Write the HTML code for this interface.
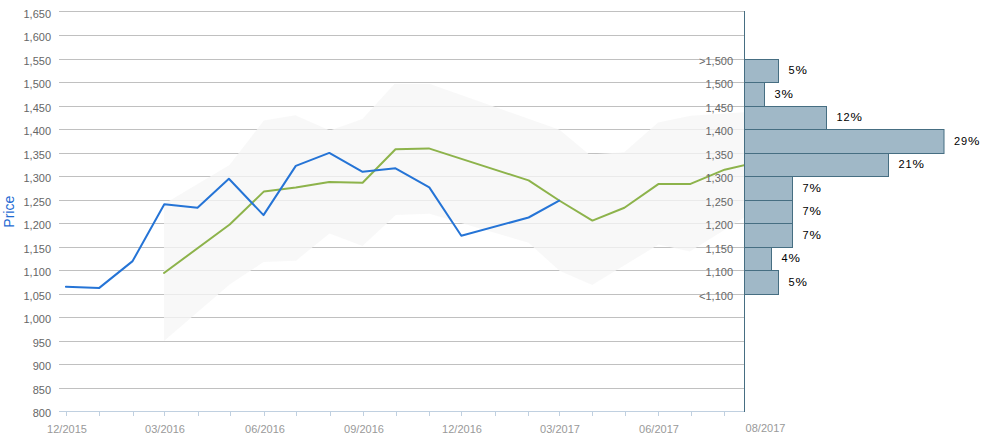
<!DOCTYPE html>
<html><head><meta charset="utf-8"><style>
html,body{margin:0;padding:0;background:#fff;width:986px;height:442px;overflow:hidden}
svg{display:block;font-family:"Liberation Sans",sans-serif}
</style></head><body>
<svg width="986" height="442" viewBox="0 0 986 442">
<defs><clipPath id="pc"><rect x="59" y="0" width="685" height="442"/></clipPath></defs>
<rect width="986" height="442" fill="#fff"/>
<path d="M59 11.5H744M59 35.5H744M59 59.5H744M59 82.5H744M59 106.5H744M59 129.5H744M59 153.5H744M59 176.5H744M59 200.5H744M59 223.5H744M59 247.5H744M59 270.5H744M59 294.5H744M59 317.5H744M59 341.5H744M59 364.5H744M59 388.5H744" stroke="#c0c0c0" stroke-width="1" fill="none"/>
<polygon points="164.0,204.0 229.5,165.1 263.8,120.6 295.3,115.3 329.9,130.4 362.4,119.1 394.4,83.9 430.0,83.9 559.6,129.8 589.2,154.6 624.2,152.2 658.1,122.6 690.8,115.8 746.0,112.0 746.0,216.5 689.8,251.6 658.6,244.5 592.2,285.0 559.5,270.8 528.6,242.8 429.5,213.8 395.8,215.0 362.5,246.0 329.5,233.5 296.0,260.7 263.5,262.1 230.0,284.3 164.0,341.0" fill="#f6f6f6" fill-opacity="0.78" clip-path="url(#pc)"/>
<path d="M59 411.5H744M66.5 411V416M99.5 411V416M133.5 411V416M164.5 411V416M198.5 411V416M230.5 411V416M264.5 411V416M296.5 411V416M330.5 411V416M363.5 411V416M396.5 411V416M429.5 411V416M461.5 411V416M495.5 411V416M528.5 411V416M559.5 411V416M592.5 411V416M625.5 411V416M658.5 411V416M691.5 411V416M724.5 411V416" stroke="#c0d0e0" stroke-width="1" fill="none"/>
<g clip-path="url(#pc)" fill="none" stroke-width="2" stroke-linejoin="round" stroke-linecap="round">
<polyline points="164.0,273.0 229.7,224.5 264.0,191.4 295.8,187.4 329.2,182.0 362.6,182.7 395.5,149.2 428.8,148.4 528.6,180.4 559.2,200.5 592.4,220.6 624.4,207.8 658.3,184.1 690.5,183.9 724.6,169.7 746.0,164.7" stroke="#8db34b"/>
<polyline points="65.9,286.7 99.3,287.9 132.6,261.1 164.3,204.2 197.5,207.8 228.9,178.8 263.5,215.1 295.8,165.9 329.3,152.9 362.6,171.8 395.5,168.3 429.3,187.4 461.3,235.8 528.6,217.5 559.2,200.6" stroke="#2574d6"/>
</g>
<g font-size="11" fill="#666" text-anchor="end"><text x="51" y="17.7">1,650</text><text x="51" y="41.2">1,600</text><text x="51" y="64.7">1,550</text><text x="51" y="88.2">1,500</text><text x="51" y="111.7">1,450</text><text x="51" y="135.2">1,400</text><text x="51" y="158.7">1,350</text><text x="51" y="182.2">1,300</text><text x="51" y="205.7">1,250</text><text x="51" y="229.2">1,200</text><text x="51" y="252.7">1,150</text><text x="51" y="276.2">1,100</text><text x="51" y="299.7">1,050</text><text x="51" y="323.2">1,000</text><text x="51" y="346.7">950</text><text x="51" y="370.2">900</text><text x="51" y="393.7">850</text><text x="51" y="417.2">800</text></g>
<g font-size="11" fill="#999" text-anchor="middle"><text x="67.0" y="433">12/2015</text><text x="165.0" y="433">03/2016</text><text x="265.0" y="433">06/2016</text><text x="364.0" y="433">09/2016</text><text x="462.0" y="433">12/2016</text><text x="560.0" y="433">03/2017</text><text x="659.0" y="433">06/2017</text><text x="765.5" y="432">08/2017</text></g>
<text transform="translate(14.3,211.7) rotate(-90)" text-anchor="middle" font-size="14" fill="#1f6bd3">Price</text>
<g fill="#a0b8c7" stroke="#466e82" stroke-width="1"><rect x="744.5" y="59.5" width="34.0" height="23"/><rect x="744.5" y="82.5" width="20.0" height="24"/><rect x="744.5" y="106.5" width="82.0" height="23"/><rect x="744.5" y="129.5" width="199.5" height="24"/><rect x="744.5" y="153.5" width="144.0" height="23"/><rect x="744.5" y="176.5" width="48.0" height="24"/><rect x="744.5" y="200.5" width="48.0" height="23"/><rect x="744.5" y="223.5" width="48.0" height="24"/><rect x="744.5" y="247.5" width="27.0" height="23"/><rect x="744.5" y="270.5" width="34.0" height="24"/></g>
<g font-size="11" fill="#000"><text x="788.50" y="74.1" letter-spacing="0.88">5</text><text transform="translate(795.40,74.1) scale(1.17,1)">%</text><text x="774.50" y="97.6" letter-spacing="0.88">3</text><text transform="translate(781.40,97.6) scale(1.17,1)">%</text><text x="836.50" y="121.1" letter-spacing="0.88">12</text><text transform="translate(850.40,121.1) scale(1.17,1)">%</text><text x="954.00" y="144.6" letter-spacing="0.88">29</text><text transform="translate(967.90,144.6) scale(1.17,1)">%</text><text x="898.50" y="168.1" letter-spacing="0.88">21</text><text transform="translate(912.40,168.1) scale(1.17,1)">%</text><text x="802.50" y="191.6" letter-spacing="0.88">7</text><text transform="translate(809.40,191.6) scale(1.17,1)">%</text><text x="802.50" y="215.1" letter-spacing="0.88">7</text><text transform="translate(809.40,215.1) scale(1.17,1)">%</text><text x="802.50" y="238.6" letter-spacing="0.88">7</text><text transform="translate(809.40,238.6) scale(1.17,1)">%</text><text x="781.50" y="262.1" letter-spacing="0.88">4</text><text transform="translate(788.40,262.1) scale(1.17,1)">%</text><text x="788.50" y="285.6" letter-spacing="0.88">5</text><text transform="translate(795.40,285.6) scale(1.17,1)">%</text></g>
<g font-size="11" fill="#666" text-anchor="end"><text x="733" y="65">&gt;1,500</text><text x="733" y="88">1,500</text><text x="733" y="112">1,450</text><text x="733" y="135">1,400</text><text x="733" y="159">1,350</text><text x="733" y="182">1,300</text><text x="733" y="206">1,250</text><text x="733" y="229">1,200</text><text x="733" y="253">1,150</text><text x="733" y="276">1,100</text><text x="733" y="300">&lt;1,100</text></g>
<path d="M744.5 11V412" stroke="#466e82" stroke-width="1"/>
</svg></body></html>
